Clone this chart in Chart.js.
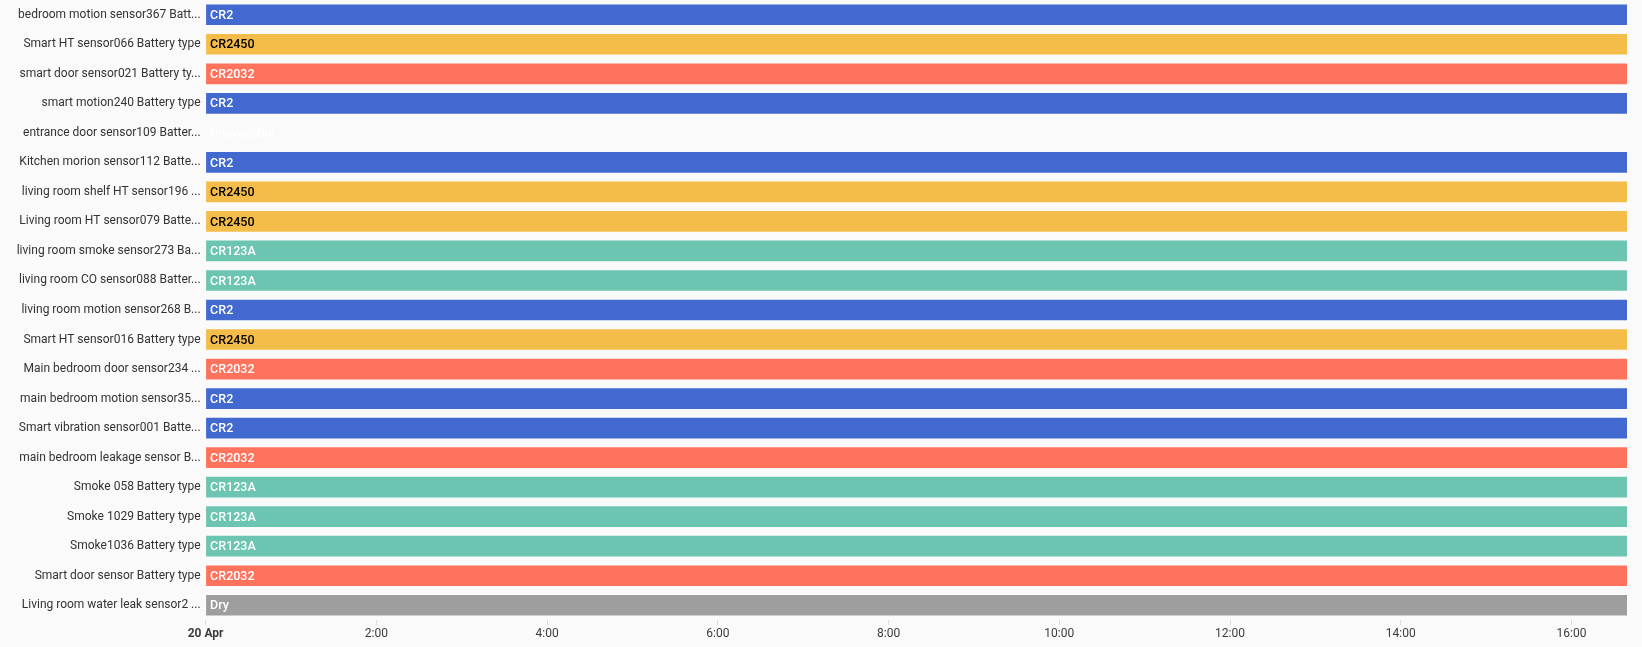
<!DOCTYPE html>
<html>
<head>
<meta charset="utf-8">
<script src="https://cdn.jsdelivr.net/npm/chart.js@4/dist/chart.umd.min.js"></script>
<style>
  html, body { margin: 0; padding: 0; background: #fafafa; }
  #wrap { width: 1642px; height: 647px; position: relative; }
</style>
</head>
<body>
<div id="wrap"><canvas id="timeline"></canvas></div>
<script>
// ========= Data =========
const entities = [
  "bedroom motion sensor367 Batt...",
  "Smart HT sensor066 Battery type",
  "smart door sensor021 Battery ty...",
  "smart motion240 Battery type",
  "entrance door sensor109 Batter...",
  "Kitchen morion sensor112 Batte...",
  "living room shelf HT sensor196 ...",
  "Living room HT sensor079 Batte...",
  "living room smoke sensor273 Ba...",
  "living room CO sensor088 Batter...",
  "living room motion sensor268 B...",
  "Smart HT sensor016 Battery type",
  "Main bedroom door sensor234 ...",
  "main bedroom motion sensor35...",
  "Smart vibration sensor001 Batte...",
  "main bedroom leakage sensor B...",
  "Smoke 058 Battery type",
  "Smoke 1029 Battery type",
  "Smoke1036 Battery type",
  "Smart door sensor Battery type",
  "Living room water leak sensor2 ..."
];

const states = [
  "CR2", "CR2450", "CR2032", "CR2", "Unavailable", "CR2", "CR2450",
  "CR2450", "CR123A", "CR123A", "CR2", "CR2450", "CR2032", "CR2",
  "CR2", "CR2032", "CR123A", "CR123A", "CR123A", "CR2032", "Dry"
];

// hours since 20 Apr 00:00
const segStart = 0;
const segEnd = 16.65;

const tickHours = [0, 2, 4, 6, 8, 10, 12, 14, 16];
const tickLabels = ["20 Apr", "2:00", "4:00", "6:00", "8:00", "10:00", "12:00", "14:00", "16:00"];

const stateColors = {
  "CR2": "#4269d0",
  "CR2450": "#f4bd4a",
  "CR2032": "#ff725c",
  "CR123A": "#6cc5b0",
  "Dry": "#9e9e9e",
  "Unavailable": "rgba(0,0,0,0)"
};
const darkText = ["CR2450"];

// ========= Chart =========
const barText = {
  id: "barText",
  afterDatasetsDraw(chart) {
    const ctx = chart.ctx;
    const meta = chart.getDatasetMeta(0);
    ctx.save();
    ctx.font = "500 12.5px Roboto";
    ctx.textBaseline = "middle";
    ctx.textAlign = "left";
    meta.data.forEach((bar, i) => {
      const left = Math.min(bar.x, bar.base);
      ctx.fillStyle = darkText.includes(states[i]) ? "#000" : "#fff";
      ctx.fillText(states[i], left + 4, bar.y + 1);
    });
    ctx.restore();
  }
};

new Chart(document.getElementById("timeline"), {
  type: "bar",
  data: {
    labels: entities,
    datasets: [{
      data: entities.map(() => [segStart, segEnd]),
      backgroundColor: states.map(s => stateColors[s]),
      borderWidth: 0,
      borderSkipped: false,
      categoryPercentage: 1,
      barPercentage: 0.7
    }]
  },
  options: {
    indexAxis: "y",
    responsive: true,
    maintainAspectRatio: false,
    animation: false,
    layout: { padding: { left: 0, right: 15, top: 0, bottom: 0 } },
    plugins: { legend: { display: false }, tooltip: { enabled: false } },
    scales: {
      x: {
        type: "linear",
        min: segStart,
        max: segEnd,
        afterBuildTicks: axis => { axis.ticks = tickHours.map(v => ({ value: v })); },
        afterFit: axis => { axis.height = 27; axis.paddingLeft = 0; axis.paddingRight = 0; },
        border: { display: false },
        grid: { drawOnChartArea: false, drawTicks: true, tickLength: 5, color: "#ddd" },
        ticks: {
          padding: 2,
          color: "#3c3c3c",
          maxRotation: 0,
          callback: v => tickLabels[tickHours.indexOf(v)],
          font: c => ({ family: "Roboto", size: 12, weight: c.tick && c.tick.value === 0 ? "bold" : "normal" })
        }
      },
      y: {
        afterFit: axis => { axis.width = 205.6; axis.paddingTop = 0; axis.paddingBottom = 0; },
        border: { display: false },
        grid: { display: false, drawTicks: false, tickLength: 0 },
        ticks: {
          padding: 5,
          color: "#333",
          autoSkip: false,
          font: { family: "Roboto", size: 12 }
        }
      }
    }
  },
  plugins: [barText]
});
</script>
</body>
</html>
